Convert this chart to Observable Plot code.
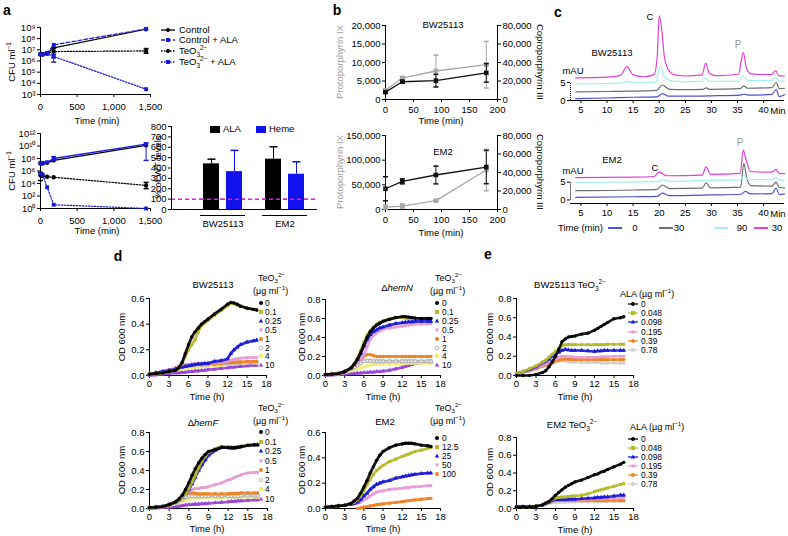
<!DOCTYPE html>
<html><head><meta charset="utf-8">
<script src="https://cdn.jsdelivr.net/npm/d3@7"></script>
<script src="https://cdn.jsdelivr.net/npm/@observablehq/plot@0.6"></script>
<style>
html,body{margin:0;padding:0;background:#fff;}
#fig{position:relative;width:788px;height:536px;overflow:hidden;font-family:"Liberation Sans",Arial,Helvetica,sans-serif;font-size:9px;color:#000;}
.t{position:absolute;white-space:nowrap;line-height:1;}
.t sub,.t sup{font-size:68%;line-height:0;}
.t sub{vertical-align:-0.35em}
.t sup{vertical-align:0.65em}
</style></head><body><div id="fig"></div>
<script>
// ---------------- DATA ----------------
// panel a (CFU ml-1)
const aTimes = [0, 30, 90, 180, 1440];
const aTopControl = [4e6, 4e6, 5e6, 1.5e7, 7e8];
const aTopControlALA = [4e6, 4e6, 5e6, 2.8e7, 7.5e8];
const aTopTeO3 = [4e6, 4e6, 5e6, 7e6, 8e6];
const aTopTeO3ALA = [4e6, 4e6, 4.5e6, 2.5e6, 3e3];
const aTopTeO3Err = [null, null, null, [2e6, 1.5e7], [5e6, 1.3e7]];
const aTopTeO3ALAErr = [null, null, null, [8e5, 4e6], null];
const aBotControl = [1.6e7, 1.6e7, 2e7, 5e7, 1.3e10];
const aBotControlALA = [2e7, 2e7, 2.5e7, 1e8, 2e10];
const aBotTeO3 = [2e5, 1.5e5, 1.2e5, 1e5, 5e3];
const aBotTeO3ALA = [4e5, 2.5e5, 2.5e3, 4, 1];
const aBotControlALAErr = [null, null, null, [5e7, 2e8], [5e7, 3e10]];
const aBotTeO3Err = [[3e4, 6e5], null, null, null, [1.5e3, 1.5e4]];
const aTopTicks = [1e3, 1e4, 1e5, 1e6, 1e7, 1e8, 1e9];
const aBotTicks = [1, 1e2, 1e4, 1e6, 1e8, 1e10, 1e12];
const aTimeTicks = [0, 500, 1000, 1500];
// bars (% of WT levels)
const barStrains = ["BW25113", "EM2"];
const barMeasures = ["ALA", "Heme"];
const barALA = [440, 485];
const barALAErr = [45, 120];
const barHeme = [365, 340];
const barHemeErr = [205, 120];
const barTicks = [0, 100, 200, 300, 400, 500, 600, 700, 800];
// panel b
const bTimes = [0, 30, 90, 180];
const bBwProto = [2500, 5800, 7700, 9400];
const bBwProtoErr = [300, 400, 4300, 6300];
const bBwCopro = [8000, 19200, 20400, 28800];
const bBwCoproErr = [1200, 1600, 6800, 10000];
const bEmProto = [5000, 7000, 18000, 80000];
const bEmProtoErr = [4000, 4000, 1500, 42000];
const bEmCopro = [22400, 30400, 37300, 45900];
const bEmCoproErr = [13000, 2700, 9600, 18000];
const bTimeTicks = [0, 50, 100, 150, 200];
const bBwLeftTicks = [0, 5000, 10000, 15000, 20000];
const bEmLeftTicks = [0, 50000, 100000, 150000];
const bRightTicks = [0, 20000, 40000, 60000, 80000];
// panel c chromatograms: [time (min), mAU incl. offset]
const cTopT0 = [[4,0.5],[10,0.7],[15,0.9],[19.6,1.0],[20.6,1.9],[21.8,1.2],[25,1.2],[30,1.3],[35.5,1.5],[36.3,1.8],[37.2,1.5],[41.6,1.7],[42.4,3.0],[43,1.1],[44,1.6]];
const cTopT30 = [[4,2.4],[10,2.5],[15,2.6],[19.5,2.8],[20.6,4.3],[22,3.1],[25,3.0],[28.4,3.1],[29,3.5],[29.7,3.1],[35.5,3.3],[36.2,4.0],[37,3.4],[41.6,3.6],[42.4,5.0],[43,3.3],[44,3.4]];
const cTopT90 = [[4,4.6],[12.5,4.8],[13.8,5.3],[15,4.9],[19.3,5.1],[20.2,9.5],[21,6.6],[22.5,5.4],[25,5.2],[28.2,5.3],[28.9,6.3],[29.6,5.3],[35.3,5.4],[36,6.9],[37,5.5],[41.5,5.6],[42.4,6.5],[43,5.4],[44,5.4]];
const cTopT180 = [[4,6.3],[10,6.5],[12.6,7.0],[13.8,9.4],[15,7.1],[17,6.6],[19,7.2],[19.6,12],[20,23.5],[20.5,19.5],[21,12],[22,8],[23,7.1],[25,6.8],[28.2,7.1],[28.9,10.4],[29.6,7.5],[31,6.9],[35.2,7.3],[35.7,11],[36.1,13.3],[36.7,9],[37.6,7.4],[41.5,7.2],[42.3,8.3],[42.9,6.9],[44,6.8]];
const cBotT0 = [[4,0.7],[15,0.9],[19.6,1.0],[20.6,1.9],[22,1.2],[30,1.4],[35.6,1.6],[36.5,2.4],[37.5,1.7],[41.6,1.8],[42.4,3.3],[43,1.5],[44,1.7]];
const cBotT30 = [[4,2.6],[15,2.8],[19.6,3.0],[20.6,4.2],[22,3.2],[28.2,3.3],[29,4.8],[29.8,3.4],[35.6,3.6],[36.2,10.3],[36.8,6],[37.6,4.0],[41.6,3.9],[42.4,5.0],[43,3.5],[44,3.4]];
const cBotT90 = [[4,4.9],[15,5.0],[20,5.2],[20.6,5.7],[22,5.2],[29,5.5],[35.6,5.6],[36.2,7.0],[37,5.7],[41.6,5.8],[42.4,6.3],[43,5.6],[44,5.6]];
const cBotT180 = [[4,6.3],[15,6.4],[19,6.6],[20,7.8],[21.5,6.8],[28.2,7],[29,9.3],[29.8,7.2],[35.5,7.5],[36.1,14.0],[36.6,11.5],[37.5,8],[41.5,7.8],[42.4,8.6],[43,7.4],[44,7.4]];
const cTimeTicks = [5, 10, 15, 20, 25, 30, 35, 40];
const cScaleTicks = [0, 5];
const cLegend = ["0", "30", "90", "30"];
// panels d, e: OD 600 nm at these times (h)
const gTimes = [0,1,2,3,4,4.5,5,5.5,6,6.5,7,7.5,8,8.5,9,10,11,12,12.5,13,13.5,14,15,16,16.5];
const hTicks = [0, 3, 6, 9, 12, 15, 18];
const odTicks6 = [0, 0.2, 0.4, 0.6];
const odTicks8 = [0, 0.2, 0.4, 0.6, 0.8];
const teoConc = ["0", "0.1", "0.25", "0.5", "1", "2", "4", "10"];
const teoConcEM2 = ["0", "12.5", "25", "50", "100"];
const alaConc = ["0", "0.048", "0.098", "0.195", "0.39", "0.78"];
const dBW = [
 [0.01,0.015,0.02,0.03,0.04,0.06,0.10,0.17,0.24,0.30,0.34,0.37,0.40,0.42,0.44,0.48,0.515,0.555,0.57,0.565,0.555,0.54,0.525,0.515,0.51],
 [0.01,0.015,0.02,0.03,0.04,0.06,0.09,0.15,0.2,0.24,0.28,0.34,0.39,0.41,0.43,0.47,0.505,0.545,0.56,0.56,0.55,0.54,0.525,0.515,0.51],
 [0.01,0.02,0.03,0.04,0.05,0.06,0.065,0.07,0.075,0.08,0.085,0.09,0.09,0.095,0.095,0.11,0.115,0.13,0.17,0.2,0.22,0.24,0.26,0.27,0.275],
 [0.01,0.02,0.03,0.04,0.06,0.07,0.08,0.085,0.085,0.09,0.09,0.09,0.09,0.095,0.095,0.1,0.105,0.11,0.12,0.125,0.13,0.135,0.14,0.14,0.14],
 [0.01,0.02,0.03,0.04,0.06,0.07,0.075,0.08,0.08,0.08,0.085,0.085,0.085,0.09,0.09,0.09,0.095,0.1,0.1,0.1,0.105,0.105,0.11,0.11,0.11],
 [0.01,0.02,0.03,0.04,0.05,0.06,0.07,0.075,0.08,0.08,0.08,0.085,0.085,0.085,0.09,0.09,0.09,0.095,0.1,0.1,0.1,0.1,0.1,0.1,0.1],
 [0.01,0.015,0.02,0.03,0.04,0.045,0.05,0.055,0.06,0.06,0.065,0.065,0.07,0.07,0.07,0.075,0.08,0.085,0.09,0.09,0.09,0.095,0.1,0.1,0.1],
 [0.0,0.005,0.01,0.015,0.02,0.02,0.025,0.025,0.03,0.03,0.035,0.035,0.04,0.04,0.045,0.05,0.055,0.06,0.065,0.065,0.07,0.07,0.075,0.08,0.08]
];
const dHemN = [
 [0.01,0.015,0.02,0.04,0.08,0.12,0.17,0.24,0.32,0.4,0.46,0.5,0.53,0.55,0.57,0.59,0.61,0.62,0.62,0.615,0.61,0.605,0.6,0.6,0.6],
 [0.01,0.015,0.02,0.04,0.08,0.12,0.18,0.26,0.35,0.42,0.47,0.51,0.54,0.56,0.575,0.595,0.61,0.61,0.605,0.6,0.6,0.6,0.6,0.6,0.6],
 [0.01,0.015,0.02,0.04,0.08,0.12,0.17,0.23,0.31,0.38,0.43,0.46,0.48,0.5,0.51,0.53,0.545,0.555,0.56,0.565,0.565,0.57,0.57,0.57,0.57],
 [0.01,0.015,0.02,0.04,0.08,0.11,0.14,0.17,0.22,0.3,0.38,0.42,0.45,0.47,0.485,0.5,0.51,0.52,0.525,0.53,0.535,0.54,0.54,0.545,0.545],
 [0.01,0.015,0.02,0.04,0.08,0.11,0.14,0.17,0.2,0.22,0.22,0.21,0.2,0.2,0.2,0.2,0.2,0.2,0.2,0.2,0.2,0.2,0.2,0.2,0.2],
 [0.01,0.015,0.02,0.04,0.07,0.09,0.11,0.13,0.15,0.155,0.155,0.15,0.15,0.15,0.15,0.15,0.15,0.15,0.15,0.15,0.15,0.15,0.15,0.15,0.15],
 [0.01,0.015,0.02,0.03,0.05,0.06,0.07,0.08,0.09,0.1,0.11,0.115,0.12,0.12,0.12,0.12,0.125,0.125,0.125,0.13,0.13,0.13,0.13,0.13,0.13],
 [0.0,0.005,0.01,0.015,0.02,0.02,0.025,0.025,0.03,0.03,0.035,0.035,0.04,0.04,0.045,0.055,0.07,0.085,0.095,0.105,0.115,0.125,0.135,0.135,0.135]
];
const dHemF = [
 [0.01,0.015,0.02,0.04,0.07,0.1,0.14,0.2,0.27,0.35,0.42,0.48,0.53,0.57,0.6,0.62,0.645,0.64,0.64,0.64,0.645,0.65,0.665,0.67,0.67],
 [0.01,0.015,0.02,0.04,0.07,0.09,0.12,0.16,0.21,0.28,0.35,0.43,0.5,0.55,0.59,0.63,0.655,0.65,0.645,0.645,0.65,0.655,0.665,0.67,0.67],
 [0.01,0.015,0.02,0.04,0.07,0.09,0.12,0.16,0.2,0.26,0.33,0.4,0.46,0.51,0.56,0.61,0.64,0.64,0.635,0.635,0.64,0.65,0.665,0.67,0.67],
 [0.01,0.015,0.02,0.04,0.07,0.09,0.12,0.15,0.19,0.2,0.21,0.21,0.22,0.22,0.23,0.25,0.27,0.3,0.31,0.33,0.34,0.355,0.375,0.38,0.38],
 [0.01,0.015,0.02,0.04,0.07,0.1,0.13,0.155,0.165,0.165,0.16,0.155,0.155,0.155,0.155,0.155,0.155,0.155,0.16,0.16,0.16,0.165,0.165,0.165,0.165],
 [0.01,0.015,0.02,0.04,0.06,0.08,0.1,0.12,0.13,0.13,0.13,0.13,0.13,0.13,0.13,0.13,0.13,0.13,0.13,0.13,0.13,0.135,0.135,0.135,0.135],
 [0.01,0.015,0.02,0.03,0.05,0.06,0.07,0.085,0.1,0.105,0.11,0.11,0.11,0.11,0.115,0.115,0.115,0.12,0.12,0.12,0.12,0.12,0.12,0.12,0.12],
 [0.0,0.005,0.01,0.015,0.02,0.025,0.03,0.035,0.04,0.04,0.045,0.045,0.05,0.05,0.055,0.06,0.065,0.07,0.075,0.075,0.08,0.08,0.085,0.09,0.09]
];
const dEM2 = [
 [0.01,0.015,0.02,0.025,0.04,0.06,0.08,0.12,0.17,0.22,0.28,0.33,0.38,0.42,0.45,0.48,0.5,0.51,0.515,0.515,0.515,0.51,0.5,0.495,0.49],
 [0.01,0.015,0.02,0.025,0.04,0.05,0.07,0.1,0.14,0.19,0.23,0.27,0.3,0.32,0.34,0.37,0.39,0.41,0.42,0.43,0.44,0.45,0.46,0.475,0.48],
 [0.01,0.015,0.02,0.025,0.035,0.04,0.05,0.07,0.1,0.12,0.15,0.17,0.19,0.2,0.21,0.22,0.24,0.25,0.255,0.26,0.265,0.27,0.275,0.28,0.28],
 [0.01,0.015,0.02,0.025,0.03,0.035,0.04,0.05,0.07,0.08,0.1,0.115,0.13,0.135,0.14,0.15,0.155,0.16,0.165,0.165,0.17,0.17,0.175,0.18,0.18],
 [null,null,null,null,null,null,0.0,0.005,0.01,0.015,0.02,0.025,0.03,0.033,0.036,0.042,0.048,0.055,0.058,0.062,0.065,0.068,0.073,0.078,0.08]
];
const eBW = [
 [0.0,0.0,0.0,0.01,0.03,0.05,0.09,0.14,0.2,0.27,0.35,0.38,0.4,0.405,0.41,0.43,0.44,0.47,0.49,0.51,0.53,0.55,0.59,0.6,0.61],
 [0.02,0.04,0.07,0.1,0.14,0.16,0.19,0.22,0.25,0.28,0.31,0.32,0.32,0.32,0.32,0.32,0.32,0.32,0.32,0.32,0.32,0.325,0.325,0.325,0.325],
 [0.02,0.04,0.06,0.09,0.13,0.15,0.17,0.2,0.22,0.24,0.26,0.27,0.265,0.26,0.26,0.26,0.255,0.25,0.255,0.255,0.26,0.26,0.26,0.26,0.26],
 [0.02,0.035,0.05,0.08,0.11,0.12,0.14,0.16,0.17,0.19,0.2,0.2,0.195,0.195,0.19,0.19,0.19,0.19,0.19,0.195,0.195,0.195,0.2,0.2,0.2],
 [0.02,0.035,0.05,0.07,0.1,0.11,0.13,0.14,0.15,0.16,0.17,0.17,0.17,0.165,0.165,0.165,0.165,0.165,0.165,0.165,0.165,0.165,0.165,0.165,0.165],
 [0.02,0.03,0.045,0.065,0.09,0.1,0.11,0.12,0.14,0.15,0.15,0.15,0.14,0.14,0.14,0.135,0.135,0.135,0.135,0.13,0.13,0.13,0.13,0.13,0.13]
];
const eEM2 = [
 [0.02,0.02,0.02,0.025,0.04,0.06,0.08,0.11,0.15,0.18,0.21,0.24,0.26,0.28,0.3,0.32,0.35,0.38,0.39,0.41,0.42,0.44,0.47,0.5,0.52],
 [0.02,0.02,0.02,0.025,0.04,0.06,0.08,0.1,0.12,0.125,0.13,0.13,0.135,0.14,0.14,0.15,0.165,0.19,0.2,0.21,0.22,0.23,0.25,0.27,0.28],
 [0.02,0.02,0.02,0.025,0.04,0.06,0.07,0.09,0.1,0.1,0.1,0.1,0.105,0.105,0.105,0.11,0.115,0.12,0.125,0.125,0.13,0.13,0.14,0.15,0.15],
 [0.02,0.02,0.02,0.025,0.04,0.06,0.07,0.085,0.095,0.1,0.1,0.1,0.1,0.1,0.1,0.105,0.105,0.11,0.11,0.11,0.115,0.115,0.12,0.12,0.12],
 [0.02,0.02,0.02,0.025,0.04,0.06,0.075,0.085,0.09,0.09,0.09,0.09,0.09,0.09,0.09,0.09,0.09,0.09,0.09,0.09,0.09,0.09,0.09,0.09,0.09],
 [0.02,0.02,0.02,0.025,0.035,0.045,0.055,0.065,0.07,0.07,0.07,0.07,0.075,0.075,0.075,0.075,0.075,0.075,0.075,0.075,0.08,0.08,0.08,0.08,0.08]
];

// ---------------- STYLE ----------------
const FONT = '"Liberation Sans", Arial, Helvetica, sans-serif';
const W = 788, H = 536;
const BLUE = "#1a1ad6", OLIVE = "#b7b92c", PINK = "#e69ad6", ORANGE = "#ee8322", GRAY = "#b8b8b8", YELLOW = "#f0ee78", PURPLE = "#9a42dc";
const dStyles = [
  {c: "#000", s: "circle"}, {c: OLIVE, s: "square"}, {c: BLUE, s: "triangle"}, {c: PINK, s: "tridown"},
  {c: ORANGE, s: "circle"}, {c: GRAY, s: "ocircle"}, {c: YELLOW, s: "square"}, {c: PURPLE, s: "triangle"}
];
const dStylesEM2 = dStyles.slice(0, 5);
const eStyles = [{c: "#000", s: "circle"}, {c: OLIVE, s: "square"}, {c: BLUE, s: "triangle"}, {c: PINK, s: "tridown"}, {c: ORANGE, s: "circle"}, {c: "#cfcfcf", s: "circle"}];
const cColors = ["#5050d8", "#6e6e6e", "#a6eef0", "#e040d6"];
const LEGFS = 8.4;

const fig = document.getElementById("fig");
const fmtC = d3.format(",");
const SUP = {"0":"⁰","1":"¹","2":"²","3":"³","4":"⁴","5":"⁵","6":"⁶","7":"⁷","8":"⁸","9":"⁹"};
const supFmt = d => "10" + String(Math.round(Math.log10(d))).split("").map(c => SUP[c]).join("");
const capSym = {draw(ctx, size) { const r = Math.sqrt(size / Math.PI); ctx.moveTo(-r, 0); ctx.lineTo(r, 0); }};
const triDown = {draw(ctx, size) { const r = Math.sqrt(size / Math.PI) * 1.25; ctx.moveTo(0, r); ctx.lineTo(-0.9 * r, -0.55 * r); ctx.lineTo(0.9 * r, -0.55 * r); ctx.closePath(); }};
const plotSym = {circle: "circle", ocircle: "circle", square: "square", triangle: "triangle", tridown: triDown};

function frame(x0, x1, y0, y1) { return {width: W, height: H, marginLeft: x0, marginRight: W - x1, marginTop: y0, marginBottom: H - y1}; }
function add(opts) {
  const svg = Plot.plot({...opts, style: `position:absolute;left:0;top:0;font-family:${FONT};font-size:9.5px;color:#000;background:none;overflow:visible;max-width:none;`});
  fig.appendChild(svg);
}
function txt(html, x, y, o = {}) {
  const d = document.createElement("div");
  d.className = "t";
  d.innerHTML = html;
  const tx = o.anchor === "start" ? "0" : o.anchor === "end" ? "-100%" : "-50%";
  d.style.left = x + "px"; d.style.top = y + "px";
  d.style.transform = `translate(${tx},-50%)` + (o.rotate ? ` rotate(${o.rotate}deg)` : "");
  if (o.size) d.style.fontSize = o.size + "px";
  if (o.bold) d.style.fontWeight = "bold";
  if (o.color) d.style.color = o.color;
  fig.appendChild(d);
}
function ico(inner, cx, cy, w, h) {
  const d = document.createElement("div");
  d.style.cssText = `position:absolute;left:${cx - w / 2}px;top:${cy - h / 2}px;width:${w}px;height:${h}px;`;
  d.innerHTML = `<svg width="${w}" height="${h}" viewBox="${-w / 2} ${-h / 2} ${w} ${h}" style="display:block;overflow:visible">${inner}</svg>`;
  fig.appendChild(d);
}
function shape(kind, color, r) {
  if (kind === "circle") return `<circle r="${r}" fill="${color}"/>`;
  if (kind === "ocircle") return `<circle r="${r * 0.9}" fill="none" stroke="${color}" stroke-width="1"/>`;
  if (kind === "square") return `<rect x="${-r}" y="${-r}" width="${2 * r}" height="${2 * r}" fill="${color}"/>`;
  if (kind === "triangle") return `<path d="M0,${-r * 1.2}L${r * 1.1},${r * 0.8}L${-r * 1.1},${r * 0.8}Z" fill="${color}"/>`;
  if (kind === "tridown") return `<path d="M0,${r * 1.2}L${r * 1.1},${-r * 0.8}L${-r * 1.1},${-r * 0.8}Z" fill="${color}"/>`;
  return "";
}
const TEO = "TeO<sub>3</sub><sup>2−</sup>";

// ---------------- PANEL a ----------------
function seriesRows(values, errs) {
  return aTimes.map((t, i) => ({t, v: values[i], lo: errs && errs[i] ? errs[i][0] : null, hi: errs && errs[i] ? errs[i][1] : null}));
}
function cfuPlot(fr, domain, ticks, defs) {
  const marks = [
    Plot.ruleX([0]), Plot.ruleY([domain[0]]),
    Plot.axisX({ticks: aTimeTicks, tickFormat: fmtC, tickSize: 3, tickPadding: 6, label: null}),
    Plot.axisY({ticks, tickFormat: supFmt, tickSize: 3, tickPadding: 2, label: null})
  ];
  for (const d of defs) {
    const rows = seriesRows(d.values, d.err);
    const er = rows.filter(r => r.lo != null);
    marks.push(Plot.ruleX(er, {x: "t", y1: "lo", y2: "hi", stroke: d.color, strokeWidth: 1}));
    marks.push(Plot.dot(er, {x: "t", y: "lo", symbol: capSym, r: 2.5, stroke: d.color, fill: "none"}));
    marks.push(Plot.dot(er, {x: "t", y: "hi", symbol: capSym, r: 2.5, stroke: d.color, fill: "none"}));
    marks.push(Plot.line(rows, {x: "t", y: "v", stroke: d.color, strokeWidth: d.w || 1.2, strokeDasharray: d.dash}));
    marks.push(Plot.dot(rows, {x: "t", y: "v", symbol: d.sym, r: 2.2, fill: d.color}));
  }
  add({...fr, x: {domain: [0, 1500], axis: null}, y: {type: "log", domain, axis: null}, marks});
}
cfuPlot(frame(40, 150, 27, 94), [1e3, 1e9], aTopTicks, [
  {values: aTopTeO3, err: aTopTeO3Err, color: "#000", dash: "1.5,1.5", sym: "circle"},
  {values: aTopTeO3ALA, err: aTopTeO3ALAErr, color: BLUE, dash: "1.5,1.5", sym: "square"},
  {values: aTopControl, color: "#000", sym: "circle"},
  {values: aTopControlALA, color: BLUE, dash: "4,2", sym: "square"}
]);
cfuPlot(frame(40, 150, 133, 208), [1, 1e12], aBotTicks, [
  {values: aBotTeO3, err: aBotTeO3Err, color: "#000", dash: "1.5,1.5", sym: "circle"},
  {values: aBotTeO3ALA, color: BLUE, dash: "1.5,1.5", sym: "square"},
  {values: aBotControl, color: "#000", sym: "circle"},
  {values: aBotControlALA, err: aBotControlALAErr, color: BLUE, sym: "square", w: 1.4}
]);
txt("a", 7, 10, {size: 14, bold: true});
txt("CFU ml<sup>−1</sup>", 12, 62, {rotate: -90, size: 9.5});
txt("Time (min)", 97, 121, {size: 9.5});
txt("CFU ml<sup>−1</sup>", 12, 171, {rotate: -90, size: 9.5});
txt("Time (min)", 97, 231, {size: 9.5});
const aLeg = [
  {label: "Control", dash: "", c: "#000", s: "circle", y: 30},
  {label: "Control + ALA", dash: "4,2", c: BLUE, s: "square", y: 40},
  {label: TEO, dash: "1.5,1.5", c: "#000", s: "circle", y: 51},
  {label: TEO + " + ALA", dash: "1.5,1.5", c: BLUE, s: "square", y: 62}
];
for (const l of aLeg) {
  ico(`<line x1="-7" x2="7" stroke="${l.c}" stroke-width="1.3" stroke-dasharray="${l.dash}"/>` + shape(l.s, l.c, 2), 168, l.y, 16, 8);
  txt(l.label, 179, l.y, {anchor: "start", size: 9.5});
}

// ---------------- BARS ----------------
const barData = [];
barStrains.forEach((s, i) => {
  barData.push({strain: s, measure: "ALA", value: barALA[i], err: barALAErr[i]});
  barData.push({strain: s, measure: "Heme", value: barHeme[i], err: barHemeErr[i]});
});
const barFill = {ALA: "#000", Heme: "#1111ee"};
add({...frame(171, 317, 126, 209), x: {domain: [0, 1], axis: null}, y: {domain: [0, 800], axis: null},
  marks: [
    Plot.axisY({ticks: barTicks, tickSize: 3, tickPadding: 2, label: null}),
    Plot.ruleY([100], {stroke: "#e020e0", strokeWidth: 1.5, strokeDasharray: "4,3"}),
  ]});
add({...frame(171, 317, 126, 209),
  fx: {domain: barStrains, paddingInner: 0.27, paddingOuter: 0.31, align: 0.74, axis: null},
  x: {domain: barMeasures, paddingInner: 0.3, paddingOuter: 0.1, axis: null},
  y: {domain: [0, 800], axis: null},
  marks: [
    ...barMeasures.map(m => Plot.barY(barData.filter(d => d.measure === m), {fx: "strain", x: "measure", y: "value", fill: barFill[m]})),
    ...barMeasures.map(m => Plot.ruleX(barData.filter(d => d.measure === m), {fx: "strain", x: "measure", y1: "value", y2: d => d.value + d.err, stroke: barFill[m]})),
    ...barMeasures.map(m => Plot.dot(barData.filter(d => d.measure === m), {fx: "strain", x: "measure", y: d => d.value + d.err, symbol: capSym, r: 4, stroke: barFill[m], fill: "none"})),
    Plot.ruleY([100], {stroke: "#e020e0", strokeWidth: 1.5, strokeDasharray: "4,3"}),
    Plot.ruleY([0], {dy: 6, stroke: "#000"}),
    Plot.axisFx({anchor: "bottom", tickSize: 0, tickPadding: 11, label: null})
  ]});
add({...frame(171, 317, 126, 209), x: {domain: [0, 1], axis: null}, y: {domain: [0, 800], axis: null},
  marks: [Plot.ruleX([0]), Plot.ruleY([0])]});
txt("% of WT levels", 158, 167, {rotate: -90, size: 9.5});
ico(`<rect x="-5" y="-3.5" width="10" height="7" fill="#000"/>`, 215, 129, 10, 7);
txt("ALA", 223, 129, {anchor: "start", size: 9.5});
ico(`<rect x="-5" y="-3.5" width="10" height="7" fill="#1111ee"/>`, 261, 129, 10, 7);
txt("Heme", 269, 129, {anchor: "start", size: 9.5});

// ---------------- PANEL b ----------------
function bPlot(fr, leftTicks, ymax, proto, protoErr, copro, coproErr) {
  const factor = bRightTicks[bRightTicks.length - 1] / ymax;
  const rowsP = bTimes.map((t, i) => ({t, v: proto[i], e: protoErr[i]}));
  const rowsC = bTimes.map((t, i) => ({t, v: copro[i] / factor, e: coproErr[i] / factor}));
  const marks = [
    Plot.ruleX([0]), Plot.ruleX([200]), Plot.ruleY([0]),
    Plot.axisX({ticks: bTimeTicks, tickSize: 3, tickPadding: 4, label: null}),
    Plot.axisY({ticks: leftTicks, tickFormat: fmtC, tickSize: 3, tickPadding: 2, label: null}),
    Plot.axisY({anchor: "right", ticks: bRightTicks.map(v => v / factor), tickFormat: d => fmtC(Math.round(d * factor)), tickSize: 3, tickPadding: 2, label: null})
  ];
  for (const [rows, col] of [[rowsP, "#a8a8a8"], [rowsC, "#111"]]) {
    marks.push(Plot.ruleX(rows, {x: "t", y1: d => Math.max(0, d.v - d.e), y2: d => d.v + d.e, stroke: col}));
    marks.push(Plot.dot(rows, {x: "t", y: d => d.v + d.e, symbol: capSym, r: 2.5, stroke: col, fill: "none"}));
    marks.push(Plot.dot(rows, {x: "t", y: d => Math.max(0, d.v - d.e), symbol: capSym, r: 2.5, stroke: col, fill: "none"}));
    marks.push(Plot.line(rows, {x: "t", y: "v", stroke: col, strokeWidth: 1.3}));
    marks.push(Plot.dot(rows, {x: "t", y: "v", symbol: "square", r: 2.6, fill: col}));
  }
  add({...fr, x: {domain: [0, 200], axis: null}, y: {domain: [0, ymax], axis: null}, marks});
}
bPlot(frame(385, 497, 25, 99), bBwLeftTicks, 20000, bBwProto, bBwProtoErr, bBwCopro, bBwCoproErr);
bPlot(frame(385, 497, 135, 209), bEmLeftTicks, 150000, bEmProto, bEmProtoErr, bEmCopro, bEmCoproErr);
txt("b", 337, 10, {size: 14, bold: true});
txt("BW25113", 443, 25, {size: 9.5});
txt("EM2", 443, 152, {size: 9.5});
txt("Protoporphyrin IX", 340, 62, {rotate: -90, size: 9.5, color: "#9a9a9a"});
txt("Protoporphyrin IX", 340, 172, {rotate: -90, size: 9.5, color: "#9a9a9a"});
txt("Coproporphyrin III", 540, 62, {rotate: 90, size: 9.5});
txt("Coproporphyrin III", 540, 172, {rotate: 90, size: 9.5});
txt("Time (min)", 441, 121, {size: 9.5});
txt("Time (min)", 441, 233, {size: 9.5});

// ---------------- PANEL c ----------------
function cPlot(fr, ydom, traces) {
  const marks = [
    Plot.ruleY([ydom[0]]),
    Plot.ruleX([3], {y1: 0, y2: 5, strokeDasharray: "1,1"}),
    Plot.axisX({ticks: cTimeTicks, tickSize: 3, tickPadding: 3, label: null}),
    Plot.axisY({ticks: cScaleTicks, tickSize: 3, tickPadding: 2, label: null})
  ];
  traces.forEach((tr, i) => marks.push(Plot.line(tr, {x: d => d[0], y: d => d[1], stroke: cColors[i], strokeWidth: 1.2, curve: "monotone-x"})));
  add({...fr, x: {domain: [3, 44], axis: null}, y: {domain: ydom, axis: null}, marks});
}
cPlot(frame(570, 784, 10, 100), [0, 25], [cTopT0, cTopT30, cTopT90, cTopT180]);
cPlot(frame(570, 784, 139, 203), [-1, 17], [cBotT0, cBotT30, cBotT90, cBotT180]);
txt("c", 558, 12, {size: 14, bold: true});
txt("BW25113", 612, 53, {size: 9.5});
txt("C", 650, 17, {size: 9.5});
txt("P", 738, 45, {size: 10, color: "#999"});
txt("mAU", 573, 71, {size: 9.5});
txt("Min", 778, 111, {size: 9.5});
txt("EM2", 612, 160, {size: 9.5});
txt("C", 655, 168, {size: 9.5});
txt("P", 740, 143, {size: 10, color: "#999"});
txt("mAU", 573, 171, {size: 9.5});
txt("Min", 778, 214, {size: 9.5});
txt("Time (min)", 558, 228, {anchor: "start", size: 9.5});
const cLegX = [[615, 635], [666, 679], [721, 742], [761, 777]];
cLegend.forEach((lab, i) => {
  ico(`<line x1="-7" x2="7" stroke="${cColors[i]}" stroke-width="2"/>`, cLegX[i][0], 228, 14, 4);
  txt(lab, cLegX[i][1], 228, {size: 9.5});
});

// ---------------- PANELS d, e ----------------
function growthPlot(fr, yTicks, series, styles, withLine) {
  const marks = [
    Plot.ruleX([0]), Plot.ruleY([0]),
    Plot.axisX({ticks: hTicks, tickSize: 3, tickPadding: 2, label: null}),
    Plot.axisY({ticks: yTicks, tickFormat: d3.format(".1f"), tickSize: 3, tickPadding: 2, label: null})
  ];
  for (let i = series.length - 1; i >= 0; i--) {
    const st = styles[i];
    const rows = gTimes.map((t, j) => ({t, v: series[i][j]})).filter(d => d.v != null);
    marks.push(Plot.line(rows, {x: "t", y: "v", stroke: st.c, strokeWidth: withLine ? 2.6 : 2.8, strokeOpacity: 0.9}));
    if (st.s === "ocircle") marks.push(Plot.dot(rows, {x: "t", y: "v", symbol: "circle", r: 1.6, stroke: st.c, fill: "white"}));
    else marks.push(Plot.dot(rows, {x: "t", y: "v", symbol: plotSym[st.s], r: 1.7, fill: st.c}));
  }
  add({...fr, x: {domain: [0, 18], axis: null}, y: {domain: [0, yTicks[yTicks.length - 1]], axis: null}, marks});
}
growthPlot(frame(149, 266, 298, 375), odTicks6, dBW, dStyles);
growthPlot(frame(325, 440, 299, 375), odTicks8, dHemN, dStyles);
growthPlot(frame(149, 267, 432, 508), odTicks8, dHemF, dStyles);
growthPlot(frame(325, 440, 432, 508), odTicks6, dEM2, dStylesEM2);
growthPlot(frame(516, 633, 298, 375), odTicks8, eBW, eStyles, true);
growthPlot(frame(516, 633, 437, 508), odTicks8, eEM2, eStyles, true);

txt("d", 118, 256, {size: 14, bold: true});
txt("e", 488, 254, {size: 14, bold: true});
for (const [x, y] of [[122, 337], [302, 337], [122, 470], [302, 470], [490, 337], [490, 472]]) txt("OD 600 nm", x, y, {rotate: -90, size: 9.5});
for (const [x, y] of [[207, 397], [383, 397], [207, 529], [383, 529], [575, 397], [575, 530]]) txt("Time (h)", x, y, {size: 9.5});
txt("BW25113", 213, 285, {size: 9.5});
txt("Δ<i>hemN</i>", 397, 288, {size: 9.5});
txt("Δ<i>hemF</i>", 203, 423, {size: 9.5});
txt("EM2", 385, 422, {size: 9.5});
txt("BW25113 " + TEO, 570, 285, {size: 9.5});
txt("EM2 " + TEO, 572, 425, {size: 9.5});

function dLegend(hx, hy, mx, lx, y0, step, labels, styles) {
  txt(TEO, hx + 5, hy, {anchor: "start", size: 9});
  txt("(µg ml<sup>−1</sup>)", hx, hy + 12.5, {anchor: "start", size: 9});
  labels.forEach((lab, i) => {
    const st = styles[i], y = y0 + i * step;
    ico(shape(st.s, st.c, 2), mx, y, 6, 6);
    txt(lab, lx, y, {anchor: "start", size: LEGFS});
  });
}
dLegend(253, 278, 261, 265, 303, 8.9, teoConc, dStyles);
dLegend(430, 278, 437, 442, 303, 8.9, teoConc, dStyles);
dLegend(253, 408, 261, 265, 432, 9.5, teoConc, dStyles);
dLegend(430, 408, 437, 442, 438, 9.1, teoConcEM2, dStylesEM2);
function eLegend(hx, hy, y0, step) {
  txt("ALA (µg ml<sup>−1</sup>)", hx, hy, {anchor: "start", size: 9});
  alaConc.forEach((lab, i) => {
    const st = eStyles[i], y = y0 + i * step;
    ico(`<line x1="-5" x2="5" stroke="${st.c}" stroke-width="1.3"/>` + shape(st.s, st.c, 2), 633, y, 10, 6);
    txt(lab, 641, y, {anchor: "start", size: LEGFS});
  });
}
eLegend(620, 294, 304, 9.2);
eLegend(630, 427, 439, 8.9);
</script></body></html>
